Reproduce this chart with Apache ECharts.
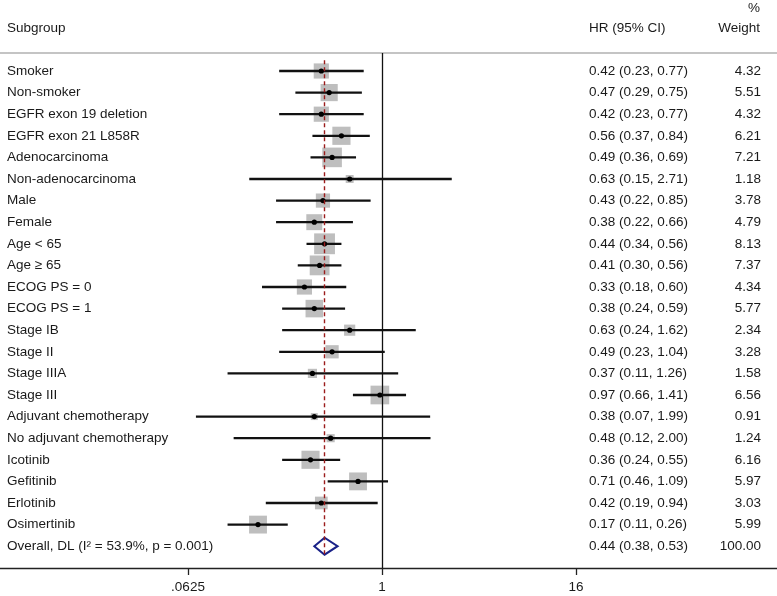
<!DOCTYPE html>
<html>
<head>
<meta charset="utf-8">
<script src="https://cdn.jsdelivr.net/npm/echarts@6/dist/echarts.min.js"></script>
<style>html,body{margin:0;padding:0;background:#fff}#c{width:777px;height:596px}</style>
</head>
<body>
<div id="c"></div>
<script>
const subgroups = ['Smoker','Non-smoker','EGFR exon 19 deletion','EGFR exon 21 L858R','Adenocarcinoma','Non-adenocarcinoma','Male','Female','Age < 65','Age \u2265 65','ECOG PS = 0','ECOG PS = 1','Stage IB','Stage II','Stage IIIA','Stage III','Adjuvant chemotherapy','No adjuvant chemotherapy','Icotinib','Gefitinib','Erlotinib','Osimertinib','Overall, DL (I\u00B2 = 53.9%, p = 0.001)'];
const hr     = [0.42,0.47,0.42,0.56,0.49,0.63,0.43,0.38,0.44,0.41,0.33,0.38,0.63,0.49,0.37,0.97,0.38,0.48,0.36,0.71,0.42,0.17,0.44];
const ciLow  = [0.23,0.29,0.23,0.37,0.36,0.15,0.22,0.22,0.34,0.30,0.18,0.24,0.24,0.23,0.11,0.66,0.07,0.12,0.24,0.46,0.19,0.11,0.38];
const ciHigh = [0.77,0.75,0.77,0.84,0.69,2.71,0.85,0.66,0.56,0.56,0.60,0.59,1.62,1.04,1.26,1.41,1.99,2.00,0.55,1.09,0.94,0.26,0.53];
const weight = [4.32,5.51,4.32,6.21,7.21,1.18,3.78,4.79,8.13,7.37,4.34,5.77,2.34,3.28,1.58,6.56,0.91,1.24,6.16,5.97,3.03,5.99,100.00];
const xTickValues = [0.0625, 1, 16];
const xTickLabels = ['.0625', '1', '16'];

const L = v => Math.log2(v);
const overallIdx = subgroups.length - 1;
const data = subgroups.map((s, i) => [L(hr[i]), i, L(ciLow[i]), L(ciHigh[i]), weight[i]]);
const tickLog = xTickValues.map(L);
const TXT = '#1a1a1a';
const FONT = 'Liberation Sans, Arial, sans-serif';
const FS = 13.5;

const chart = echarts.init(document.getElementById('c'), null, {renderer: 'canvas'});
chart.setOption({
  animation: false,
  grid: {left: 0, right: 0, top: 53, bottom: 28, containLabel: false},
  xAxis: [{
    type: 'value',
    min: -382 / 48.5,
    max: (777 - 382) / 48.5,
    splitLine: {show: false},
    axisLine: {show: true, onZero: false, lineStyle: {color: '#222', width: 1.3}},
    axisTick: {show: true, customValues: tickLog, length: 7, lineStyle: {color: '#222', width: 1.3}},
    axisLabel: {show: true, customValues: tickLog, color: TXT, fontFamily: FONT, fontSize: FS, margin: 12,
      formatter: v => { const k = tickLog.findIndex(t => Math.abs(t - v) < 1e-6); return k >= 0 ? xTickLabels[k] : ''; }}
  }, {
    type: 'value', position: 'top',
    min: -382 / 48.5, max: (777 - 382) / 48.5,
    splitLine: {show: false},
    axisLine: {show: true, onZero: false, lineStyle: {color: '#c4c4c4', width: 2}},
    axisTick: {show: false}, axisLabel: {show: false}
  }],
  yAxis: {type: 'value', inverse: true, min: -0.833, max: 23.01, show: false},
  graphic: [
    {type: 'text', left: 7, top: 21, style: {text: 'Subgroup', fill: TXT, font: FS + 'px ' + FONT}},
    {type: 'text', left: 589, top: 21, style: {text: 'HR (95% CI)', fill: TXT, font: FS + 'px ' + FONT}},
    {type: 'text', right: 17, top: 1, style: {text: '%', fill: TXT, font: FS + 'px ' + FONT}},
    {type: 'text', right: 17, top: 21, style: {text: 'Weight', fill: TXT, font: FS + 'px ' + FONT}}
  ],
  series: [{
    type: 'custom',
    xAxisIndex: 0,
    data: data,
    encode: {x: [0, 2, 3], y: 1},
    clip: false,
    renderItem: (params, api) => {
      const i = api.value(1);
      const c = api.coord([api.value(0), i]);
      const lo = api.coord([api.value(2), i]);
      const hi = api.coord([api.value(3), i]);
      const w = api.value(4);
      const children = [];
      if (i === overallIdx) {
        const h = 8.5;
        children.push({type: 'polygon', shape: {points: [[lo[0], c[1]], [c[0], c[1] - h], [hi[0], c[1]], [c[0], c[1] + h]]},
          style: {fill: 'none', stroke: '#1a2288', lineWidth: 2}, z2: 5});
      } else {
        const side = 7.3 * Math.sqrt(w);
        children.push({type: 'rect', shape: {x: c[0] - side / 2, y: c[1] - side / 2, width: side, height: side},
          style: {fill: '#bebebe'}, z2: 1});
        children.push({type: 'line', shape: {x1: lo[0], y1: c[1], x2: hi[0], y2: c[1]},
          style: {stroke: '#111', lineWidth: 2.3}, z2: 3});
        children.push({type: 'circle', shape: {cx: c[0], cy: c[1], r: 2.6}, style: {fill: '#000'}, z2: 4});
      }
      const ci = hr[i].toFixed(2) + ' (' + ciLow[i].toFixed(2) + ', ' + ciHigh[i].toFixed(2) + ')';
      children.push({type: 'text', style: {x: 7, y: c[1], text: subgroups[i], fill: TXT, font: FS + 'px ' + FONT, verticalAlign: 'middle', align: 'left'}});
      children.push({type: 'text', style: {x: 589, y: c[1], text: ci, fill: TXT, font: FS + 'px ' + FONT, verticalAlign: 'middle', align: 'left'}});
      children.push({type: 'text', style: {x: 761, y: c[1], text: weight[i].toFixed(2), fill: TXT, font: FS + 'px ' + FONT, verticalAlign: 'middle', align: 'right'}});
      return {type: 'group', children: children};
    },
    markLine: {
      silent: true, symbol: 'none', animation: false,
      label: {show: false},
      data: [
        {xAxis: 0, lineStyle: {color: '#111', width: 1.3, type: 'solid'}},
        [{coord: [L(hr[overallIdx]), -0.5]}, {coord: [L(hr[overallIdx]), overallIdx + 0.45]}]
      ],
      lineStyle: {color: '#9b1c1c', width: 1.4, type: [4, 3]}
    }
  }]
});
</script>
</body>
</html>
